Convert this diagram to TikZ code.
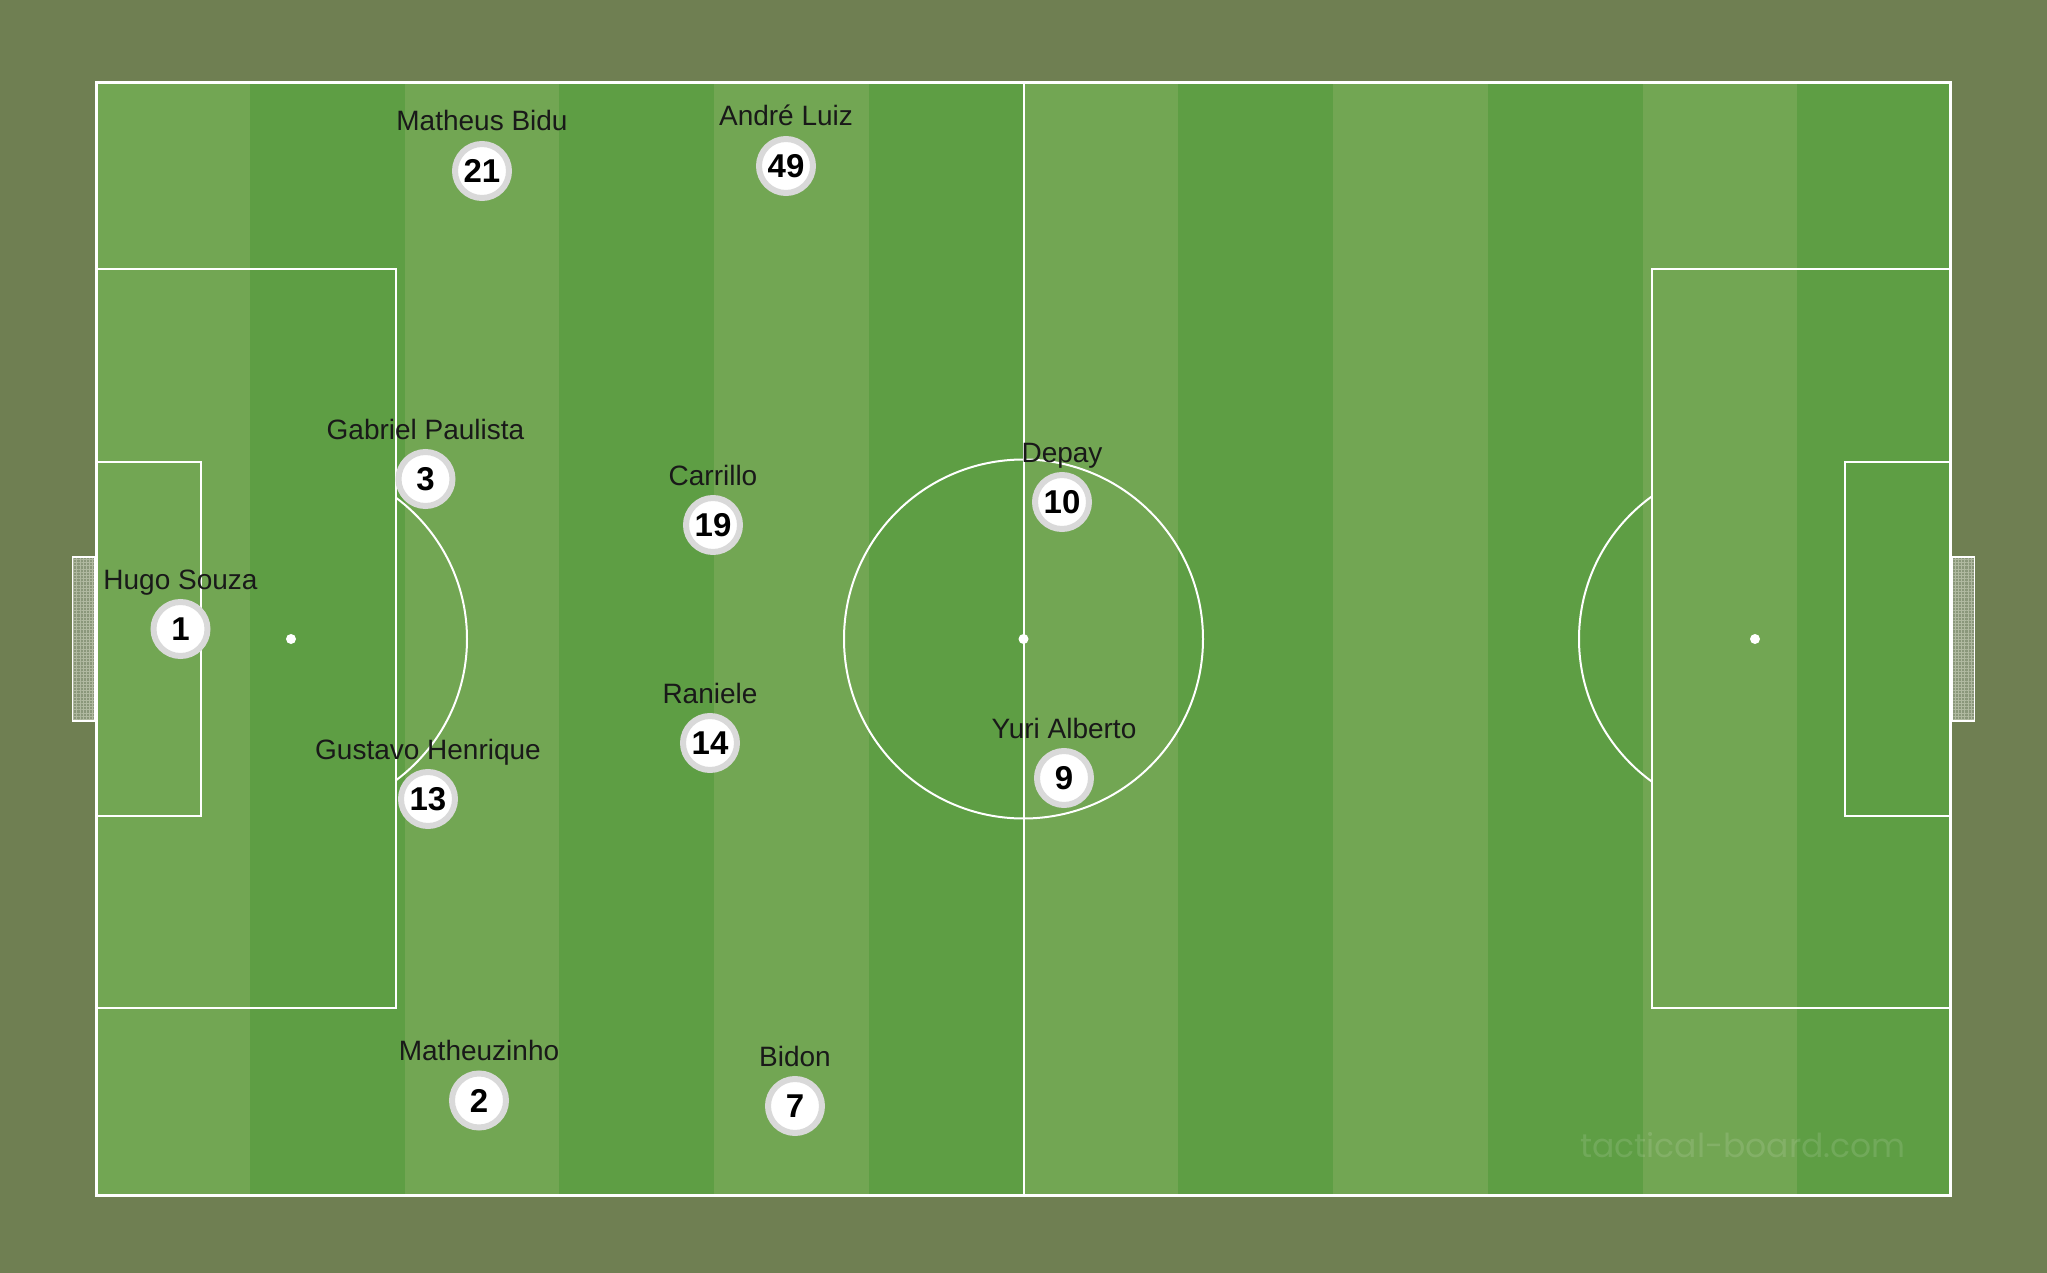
\documentclass[tikz,border=0pt]{standalone}
\usepackage{fontspec}
\setmainfont{Liberation Sans}
\newfontfamily\markfont{Poppins}
\usetikzlibrary{patterns.meta}

\definecolor{boardbg}{HTML}{6F7F52}
\definecolor{grasslight}{HTML}{72A653}
\definecolor{grassdark}{HTML}{5E9E44}
\definecolor{ringgray}{HTML}{D9D9D9}
\definecolor{netgray}{HTML}{8A977A}

\tikzset{
  pitchline/.style={draw=white, line width=1pt},
  player/.style={circle, draw=ringgray, line width=3pt, fill=white, minimum size=27pt,
    inner sep=0pt, font=\fontsize{16.5}{16.5}\selectfont\bfseries},
  pname/.style={anchor=base, inner sep=0pt, text=black!90, font=\fontsize{14}{16}\selectfont},
  goalnet/.style={draw=white, line width=0.9pt, pattern={Hatch[distance=1.6pt, line width=0.35pt]},
    pattern color=white!45!boardbg},
}

\begin{document}
\begin{tikzpicture}[x=0.5pt, y=-0.5pt]
    % Background
    \fill[boardbg] (0,0) rectangle (2047,1273);
    \useasboundingbox (0,0) rectangle (2047,1273);

    % Grass with dark stripes
    \fill[grasslight] (95,81) rectangle (1952,1197);
    \fill[grassdark] (249.75,81) rectangle (404.5,1197);
    \fill[grassdark] (559.25,81) rectangle (714,1197);
    \fill[grassdark] (868.75,81) rectangle (1023.5,1197);
    \fill[grassdark] (1178.25,81) rectangle (1333,1197);
    \fill[grassdark] (1487.75,81) rectangle (1642.5,1197);
    \fill[grassdark] (1797.25,81) rectangle (1952,1197);

    % Goals
    \fill[netgray] (72.5,557) rectangle (95,721);
    \draw[goalnet] (72.5,557) rectangle (95,721);
    \fill[netgray] (1952,557) rectangle (1974.5,721);
    \draw[goalnet] (1952,557) rectangle (1974.5,721);

    % Pitch lines
    \draw[pitchline, line width=1.4pt] (96.5,82.5) rectangle (1950.5,1195.5);
    \draw[pitchline] (1023.5,82.5) -- (1023.5,1195.5);
    \draw[pitchline] (1023.5,639) circle (179.5);
    \fill[white] (1023.5,639) circle (5);

    % Left penalty area
    \draw[pitchline] (96.5,269) rectangle (395.5,1008);
    \draw[pitchline] (96.5,462) rectangle (201,816);
    \fill[white] (291,639) circle (5);
    \begin{scope}
        \clip (395.5,82) rectangle (1023.5,1196);
        \draw[pitchline] (291,639) circle (176);
    \end{scope}

    % Right penalty area
    \draw[pitchline] (1651.5,269) rectangle (1950.5,1008);
    \draw[pitchline] (1845,462) rectangle (1950.5,816);
    \fill[white] (1755,639) circle (5);
    \begin{scope}
        \clip (1023.5,82) rectangle (1651.5,1196);
        \draw[pitchline] (1755,639) circle (176);
    \end{scope}

    % Watermark
    \node[text=white, opacity=0.12, font=\markfont\fontsize{16.5}{16.5}\selectfont] (mark) at (1743,1145) {tactical-board.com};

    % Goalkeeper
    \node[player] (p1) at (180.5,629) {1};
    \node[pname] (n1) at ([yshift=20pt]p1.center) {Hugo Souza};

    % Defenders
    \node[player] (p21) at (482,171) {21};
    \node[pname] (n21) at ([yshift=20pt]p21.center) {Matheus Bidu};
    \node[player] (p3) at (425.5,479) {3};
    \node[pname] (n3) at ([yshift=20pt]p3.center) {Gabriel Paulista};
    \node[player] (p13) at (428,799) {13};
    \node[pname] (n13) at ([yshift=20pt]p13.center) {Gustavo Henrique};
    \node[player] (p2) at (479,1100.5) {2};
    \node[pname] (n2) at ([yshift=20pt]p2.center) {Matheuzinho};

    % Midfield
    \node[player] (p49) at (786,166) {49};
    \node[pname] (n49) at ([yshift=20pt]p49.center) {André Luiz};
    \node[player] (p19) at (713,525) {19};
    \node[pname] (n19) at ([yshift=20pt]p19.center) {Carrillo};
    \node[player] (p14) at (710,743) {14};
    \node[pname] (n14) at ([yshift=20pt]p14.center) {Raniele};
    \node[player] (p7) at (795,1106) {7};
    \node[pname] (n7) at ([yshift=20pt]p7.center) {Bidon};

    % Forwards
    \node[player] (p10) at (1062,502) {10};
    \node[pname] (n10) at ([yshift=20pt]p10.center) {Depay};
    \node[player] (p9) at (1064,778) {9};
    \node[pname] (n9) at ([yshift=20pt]p9.center) {Yuri Alberto};
\end{tikzpicture}
\end{document}
